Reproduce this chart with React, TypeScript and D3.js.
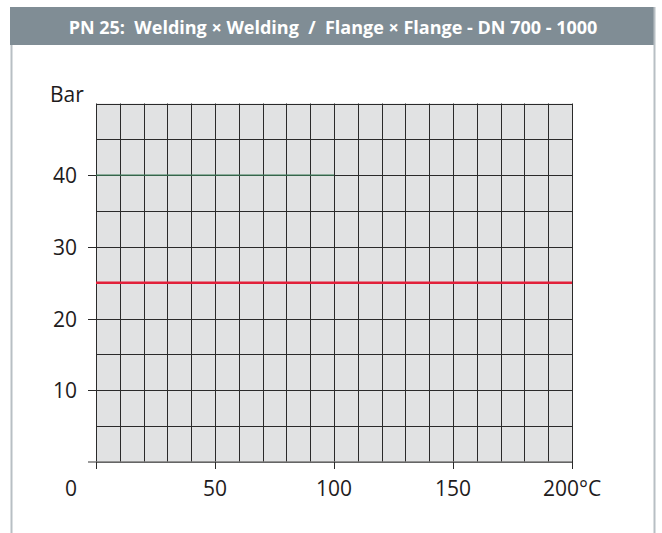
import React from "react";
import * as d3 from "d3";

const title = "PN 25:  Welding \u00d7 Welding  /  Flange \u00d7 Flange - DN 700 - 1000";
const yAxisTitle = "Bar";
const xTickValues = [0, 50, 100, 150, 200];
const xTickLabels = ["0", "50", "100", "150", "200\u00b0C"];
const yTickValues = [10, 20, 30, 40];
const yTickLabels = ["10", "20", "30", "40"];
const xGridStep = 10;
const yGridStep = 5;
const xDomain = [0, 200];
const yDomain = [0, 50];
// series: [temperature, pressure]
const redSeriesX = [0, 200];
const redSeriesY = [25, 25];
const greenSeriesX = [0, 100];
const greenSeriesY = [40, 40];

const W = 662;
const H = 533;
const FONT = "'Open Sans', 'Noto Sans', sans-serif";

export default function App() {
  const x = d3.scaleLinear().domain(xDomain).range([96, 572]);
  const y = d3.scaleLinear().domain(yDomain).range([462, 103.5]);
  const xGrid = d3.range(xDomain[0], xDomain[1] + 0.001, xGridStep);
  const yGrid = d3.range(yDomain[0], yDomain[1] + 0.001, yGridStep);
  const line = d3
    .line<[number, number]>()
    .x((d) => x(d[0]))
    .y((d) => y(d[1]));
  const red = redSeriesX.map((v, i) => [v, redSeriesY[i]] as [number, number]);
  const green = greenSeriesX.map((v, i) => [v, greenSeriesY[i]] as [number, number]);

  return (
    <svg
      width={W}
      height={H}
      style={{ position: "absolute", left: 0, top: 0, background: "#fff" }}
      fontFamily={FONT}
    >
      {/* panel */}
      <rect x={10} y={7} width={644} height={38} fill="#808d95" />
      <line x1={11.5} x2={11.5} y1={45} y2={H} stroke="#b8bfc4" strokeWidth={2} />
      <line x1={654.5} x2={654.5} y1={7} y2={H} stroke="#b8bfc4" strokeWidth={2} />
      <text
        x={333}
        y={27}
        textAnchor="middle"
        dominantBaseline="central"
        fill="#fff"
        fontWeight={700}
        fontSize={18}
        style={{ whiteSpace: "pre" }}
        xmlSpace="preserve"
      >
        {title}
      </text>

      {/* plot area */}
      <rect
        x={x(xDomain[0])}
        y={y(yDomain[1])}
        width={x(xDomain[1]) - x(xDomain[0])}
        height={y(yDomain[0]) - y(yDomain[1])}
        fill="#e1e2e3"
      />
      {xGrid.map((v) => (
        <line
          key={"vx" + v}
          x1={Math.round(x(v)) + 0.5}
          x2={Math.round(x(v)) + 0.5}
          y1={y(yDomain[1])}
          y2={y(yDomain[0])}
          stroke="#2a2a2a"
          strokeWidth={1}
        />
      ))}
      {yGrid.map((v) => (
        <line
          key={"hy" + v}
          x1={x(xDomain[0])}
          x2={x(xDomain[1])}
          y1={Math.round(y(v)) + 0.5}
          y2={Math.round(y(v)) + 0.5}
          stroke="#2a2a2a"
          strokeWidth={1}
        />
      ))}
      {/* bottom axis */}
      <line
        x1={x(xDomain[0]) - 8}
        x2={x(xDomain[1])}
        y1={y(0)}
        y2={y(0)}
        stroke="#7a7a7a"
        strokeWidth={1.6}
      />
      {xTickValues.map((v) => (
        <line
          key={"xt" + v}
          x1={Math.round(x(v)) + 0.5}
          x2={Math.round(x(v)) + 0.5}
          y1={y(0)}
          y2={y(0) + 7}
          stroke="#2a2a2a"
          strokeWidth={1}
        />
      ))}
      {yTickValues.map((v) => (
        <line
          key={"yt" + v}
          x1={x(0) - 8}
          x2={x(0)}
          y1={Math.round(y(v)) + 0.5}
          y2={Math.round(y(v)) + 0.5}
          stroke="#2a2a2a"
          strokeWidth={1}
        />
      ))}

      {/* series */}
      <path d={line(green) || ""} stroke="#3b7a57" strokeWidth={1.3} fill="none" />
      <path d={line(red) || ""} stroke="#e2203a" strokeWidth={2.5} fill="none" />

      {/* labels */}
      <text x={50} y={102} fontSize={21} fill="#1e1b1c">
        {yAxisTitle}
      </text>
      {yTickValues.map((v, i) => (
        <text
          key={"yl" + v}
          x={x(0) - 19}
          y={y(v)}
          textAnchor="end"
          dominantBaseline="central"
          fontSize={21}
          fill="#1e1b1c"
        >
          {yTickLabels[i]}
        </text>
      ))}
      {xTickValues.map((v, i) => {
        const last = i === xTickValues.length - 1;
        const first = i === 0;
        return (
          <text
            key={"xl" + v}
            x={first ? x(v) - 25 : last ? x(v) - 29 : x(v)}
            y={496}
            textAnchor={last ? "start" : "middle"}
            fontSize={21}
            fill="#1e1b1c"
          >
            {xTickLabels[i]}
          </text>
        );
      })}
    </svg>
  );
}
